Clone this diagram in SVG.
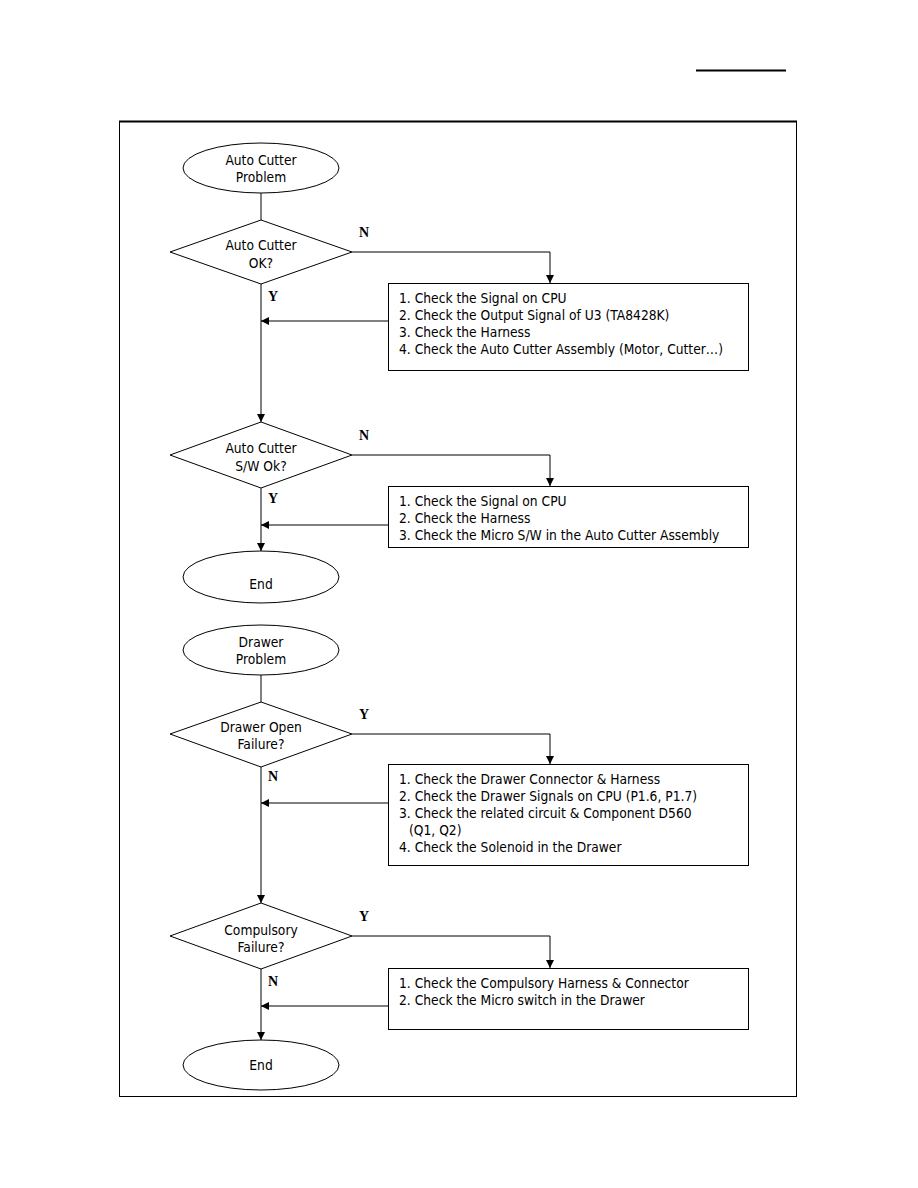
<svg xmlns="http://www.w3.org/2000/svg" width="918" height="1188" viewBox="0 0 918 1188">
<style>
.s{fill:#fff;stroke:#000;stroke-width:1}
.c{fill:none;stroke:#000;stroke-width:1}
.t{font-family:"DejaVu Sans Condensed","Liberation Sans",sans-serif;font-size:13.7px;fill:#000}
.m{text-anchor:middle}
.l{font-family:"Liberation Serif",serif;font-weight:bold;font-size:14px;fill:#000}
</style>
<defs>
<marker id="a" markerWidth="8" markerHeight="10" refX="8" refY="4" orient="auto" markerUnits="userSpaceOnUse" viewBox="0 0 8 8">
<path d="M0,0 L8,4 L0,8 Z" fill="#000"/>
</marker>
</defs>
<rect width="918" height="1188" fill="#fff"/>
<line x1="696" y1="70.5" x2="786" y2="70.5" stroke="#000" stroke-width="2"/>
<rect x="119.5" y="121.5" width="677" height="975" fill="none" stroke="#000" stroke-width="1"/>
<line x1="119" y1="121.5" x2="797" y2="121.5" stroke="#000" stroke-width="2"/>

<g id="connectors">
<line class="c" x1="261" y1="193" x2="261" y2="220"/>
<polyline class="c" points="352,252 550,252 550,283" marker-end="url(#a)"/>
<line class="c" x1="261" y1="284" x2="261" y2="422" marker-end="url(#a)"/>
<line class="c" x1="388" y1="321" x2="261" y2="321" marker-end="url(#a)"/>
<polyline class="c" points="352,455 550,455 550,486" marker-end="url(#a)"/>
<line class="c" x1="261" y1="488" x2="261" y2="551" marker-end="url(#a)"/>
<line class="c" x1="388" y1="525" x2="261" y2="525" marker-end="url(#a)"/>
<line class="c" x1="261" y1="675" x2="261" y2="702"/>
<polyline class="c" points="352,734 550,734 550,764" marker-end="url(#a)"/>
<line class="c" x1="261" y1="767" x2="261" y2="903" marker-end="url(#a)"/>
<line class="c" x1="388" y1="803" x2="261" y2="803" marker-end="url(#a)"/>
<polyline class="c" points="352,936 550,936 550,968" marker-end="url(#a)"/>
<line class="c" x1="261" y1="969" x2="261" y2="1040" marker-end="url(#a)"/>
<line class="c" x1="388" y1="1006" x2="261" y2="1006" marker-end="url(#a)"/>
<text class="l" x="359" y="237">N</text>
<text class="l" x="268" y="301">Y</text>
<text class="l" x="359" y="440">N</text>
<text class="l" x="268" y="503">Y</text>
<text class="l" x="359" y="719">Y</text>
<text class="l" x="268" y="781">N</text>
<text class="l" x="359" y="921">Y</text>
<text class="l" x="268" y="986">N</text>
</g>

<g id="start1">
<ellipse class="s" cx="261" cy="168" rx="78" ry="25"/>
<text class="t m" x="261" y="165">Auto Cutter</text>
<text class="t m" x="261" y="182">Problem</text>
</g>
<g id="dec1">
<polygon class="s" points="261,220 352,252 261,284 170,252"/>
<text class="t m" x="261" y="250">Auto Cutter</text>
<text class="t m" x="261" y="268">OK?</text>
</g>
<g id="box1">
<rect class="s" x="388.5" y="283.5" width="360" height="87"/>
<text class="t" x="399" y="303">1. Check the Signal on CPU</text>
<text class="t" x="399" y="320">2. Check the Output Signal of U3 (TA8428K)</text>
<text class="t" x="399" y="337">3. Check the Harness</text>
<text class="t" x="399" y="354">4. Check the Auto Cutter Assembly (Motor, Cutter…)</text>
</g>
<g id="dec2">
<polygon class="s" points="261,422 352,455 261,488 170,455"/>
<text class="t m" x="261" y="453">Auto Cutter</text>
<text class="t m" x="261" y="471">S/W Ok?</text>
</g>
<g id="box2">
<rect class="s" x="388.5" y="486.5" width="360" height="61"/>
<text class="t" x="399" y="506">1. Check the Signal on CPU</text>
<text class="t" x="399" y="523">2. Check the Harness</text>
<text class="t" x="399" y="540">3. Check the Micro S/W in the Auto Cutter Assembly</text>
</g>
<g id="end1">
<ellipse class="s" cx="261" cy="577" rx="78" ry="26"/>
<text class="t m" x="261" y="589">End</text>
</g>
<g id="start2">
<ellipse class="s" cx="261" cy="650" rx="78" ry="25"/>
<text class="t m" x="261" y="647">Drawer</text>
<text class="t m" x="261" y="664">Problem</text>
</g>
<g id="dec3">
<polygon class="s" points="261,702 352,734 261,767 170,734"/>
<text class="t m" x="261" y="732">Drawer Open</text>
<text class="t m" x="261" y="749">Failure?</text>
</g>
<g id="box3">
<rect class="s" x="388.5" y="764.5" width="360" height="101"/>
<text class="t" x="399" y="784">1. Check the Drawer Connector &amp; Harness</text>
<text class="t" x="399" y="801">2. Check the Drawer Signals on CPU (P1.6, P1.7)</text>
<text class="t" x="399" y="818">3. Check the related circuit &amp; Component D560</text>
<text class="t" x="409" y="835">(Q1, Q2)</text>
<text class="t" x="399" y="852">4. Check the Solenoid in the Drawer</text>
</g>
<g id="dec4">
<polygon class="s" points="261,903 352,936 261,969 170,936"/>
<text class="t m" x="261" y="935">Compulsory</text>
<text class="t m" x="261" y="952">Failure?</text>
</g>
<g id="box4">
<rect class="s" x="388.5" y="968.5" width="360" height="61"/>
<text class="t" x="399" y="988">1. Check the Compulsory Harness &amp; Connector</text>
<text class="t" x="399" y="1005">2. Check the Micro switch in the Drawer</text>
</g>
<g id="end2">
<ellipse class="s" cx="261" cy="1065" rx="78" ry="25"/>
<text class="t m" x="261" y="1070">End</text>
</g>
</svg>
